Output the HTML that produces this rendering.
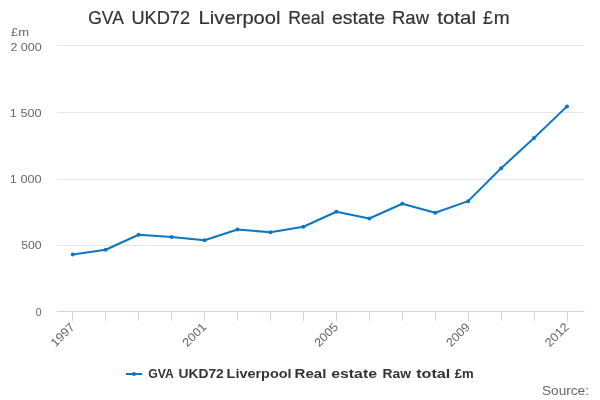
<!DOCTYPE html>
<html><head><meta charset="utf-8"><style>
html,body{margin:0;padding:0;background:#fff;width:600px;height:400px;overflow:hidden}
svg{display:block;will-change:transform}
text{font-family:"Liberation Sans", sans-serif}
</style></head><body>
<svg width="600" height="400" viewBox="0 0 600 400">
<rect width="600" height="400" fill="#fff"/>

<path d="M57 45.5H584" stroke="#e6e6e6" stroke-width="1" fill="none"/>
<path d="M57 112.5H584" stroke="#e6e6e6" stroke-width="1" fill="none"/>
<path d="M57 179.5H584" stroke="#e6e6e6" stroke-width="1" fill="none"/>
<path d="M57 245.5H584" stroke="#e6e6e6" stroke-width="1" fill="none"/>
<path d="M57 311.5H584" stroke="#ccd6eb" stroke-width="1" fill="none"/>
<path d="M72.5 311V321" stroke="#ccd6eb" stroke-width="1" fill="none"/>
<path d="M105.5 311V321" stroke="#ccd6eb" stroke-width="1" fill="none"/>
<path d="M138.5 311V321" stroke="#ccd6eb" stroke-width="1" fill="none"/>
<path d="M171.5 311V321" stroke="#ccd6eb" stroke-width="1" fill="none"/>
<path d="M204.5 311V321" stroke="#ccd6eb" stroke-width="1" fill="none"/>
<path d="M237.5 311V321" stroke="#ccd6eb" stroke-width="1" fill="none"/>
<path d="M270.5 311V321" stroke="#ccd6eb" stroke-width="1" fill="none"/>
<path d="M303.5 311V321" stroke="#ccd6eb" stroke-width="1" fill="none"/>
<path d="M336.5 311V321" stroke="#ccd6eb" stroke-width="1" fill="none"/>
<path d="M369.5 311V321" stroke="#ccd6eb" stroke-width="1" fill="none"/>
<path d="M402.5 311V321" stroke="#ccd6eb" stroke-width="1" fill="none"/>
<path d="M435.5 311V321" stroke="#ccd6eb" stroke-width="1" fill="none"/>
<path d="M468.5 311V321" stroke="#ccd6eb" stroke-width="1" fill="none"/>
<path d="M501.5 311V321" stroke="#ccd6eb" stroke-width="1" fill="none"/>
<path d="M534.5 311V321" stroke="#ccd6eb" stroke-width="1" fill="none"/>
<path d="M567.5 311V321" stroke="#ccd6eb" stroke-width="1" fill="none"/>
<path d="M72.75 254.50 L105.70 249.75 L138.65 234.75 L171.60 236.90 L204.55 240.25 L237.50 229.50 L270.45 232.25 L303.40 226.75 L336.35 211.75 L369.30 218.50 L402.25 203.75 L435.20 212.75 L468.15 201.15 L501.10 168.25 L534.05 138.00 L567.00 106.40" stroke="#0c77c0" stroke-width="2" fill="none" stroke-linejoin="round" stroke-linecap="round"/>
<circle cx="72.75" cy="254.50" r="2" fill="#0c77c0"/>
<circle cx="105.70" cy="249.75" r="2" fill="#0c77c0"/>
<circle cx="138.65" cy="234.75" r="2" fill="#0c77c0"/>
<circle cx="171.60" cy="236.90" r="2" fill="#0c77c0"/>
<circle cx="204.55" cy="240.25" r="2" fill="#0c77c0"/>
<circle cx="237.50" cy="229.50" r="2" fill="#0c77c0"/>
<circle cx="270.45" cy="232.25" r="2" fill="#0c77c0"/>
<circle cx="303.40" cy="226.75" r="2" fill="#0c77c0"/>
<circle cx="336.35" cy="211.75" r="2" fill="#0c77c0"/>
<circle cx="369.30" cy="218.50" r="2" fill="#0c77c0"/>
<circle cx="402.25" cy="203.75" r="2" fill="#0c77c0"/>
<circle cx="435.20" cy="212.75" r="2" fill="#0c77c0"/>
<circle cx="468.15" cy="201.15" r="2" fill="#0c77c0"/>
<circle cx="501.10" cy="168.25" r="2" fill="#0c77c0"/>
<circle cx="534.05" cy="138.00" r="2" fill="#0c77c0"/>
<circle cx="567.00" cy="106.40" r="2" fill="#0c77c0"/>
<path d="M126 374H142" stroke="#0c77c0" stroke-width="2" fill="none"/>
<circle cx="134" cy="374" r="2" fill="#0c77c0"/>
<text x="88.20" y="23.8" font-size="19" fill="#333" font-weight="normal" textLength="35.60" lengthAdjust="spacingAndGlyphs" stroke="#333" stroke-width="0.2">GVA</text>
<text x="131.40" y="23.8" font-size="19" fill="#333" font-weight="normal" textLength="58.60" lengthAdjust="spacingAndGlyphs" stroke="#333" stroke-width="0.2">UKD72</text>
<text x="198.60" y="23.8" font-size="19" fill="#333" font-weight="normal" textLength="82.00" lengthAdjust="spacingAndGlyphs" stroke="#333" stroke-width="0.2">Liverpool</text>
<text x="288.20" y="23.8" font-size="19" fill="#333" font-weight="normal" textLength="36.20" lengthAdjust="spacingAndGlyphs" stroke="#333" stroke-width="0.2">Real</text>
<text x="332.00" y="23.8" font-size="19" fill="#333" font-weight="normal" textLength="53.00" lengthAdjust="spacingAndGlyphs" stroke="#333" stroke-width="0.2">estate</text>
<text x="392.00" y="23.8" font-size="19" fill="#333" font-weight="normal" textLength="37.00" lengthAdjust="spacingAndGlyphs" stroke="#333" stroke-width="0.2">Raw</text>
<text x="437.20" y="23.8" font-size="19" fill="#333" font-weight="normal" textLength="38.80" lengthAdjust="spacingAndGlyphs" stroke="#333" stroke-width="0.2">total</text>
<text x="483.00" y="23.8" font-size="19" fill="#333" font-weight="normal" textLength="9.80" lengthAdjust="spacingAndGlyphs" stroke="#333" stroke-width="0.2">£</text>
<text x="493.68" y="23.8" font-size="19" fill="#333" font-weight="normal" textLength="15.92" lengthAdjust="spacingAndGlyphs" stroke="#333" stroke-width="0.2">m</text>
<text x="148.20" y="377.6" font-size="12.7" fill="#333" font-weight="bold" textLength="25.60" lengthAdjust="spacingAndGlyphs">GVA</text>
<text x="178.40" y="377.6" font-size="12.7" fill="#333" font-weight="bold" textLength="45.40" lengthAdjust="spacingAndGlyphs">UKD72</text>
<text x="226.60" y="377.6" font-size="12.7" fill="#333" font-weight="bold" textLength="65.00" lengthAdjust="spacingAndGlyphs">Liverpool</text>
<text x="294.60" y="377.6" font-size="12.7" fill="#333" font-weight="bold" textLength="31.80" lengthAdjust="spacingAndGlyphs">Real</text>
<text x="331.20" y="377.6" font-size="12.7" fill="#333" font-weight="bold" textLength="45.80" lengthAdjust="spacingAndGlyphs">estate</text>
<text x="382.60" y="377.6" font-size="12.7" fill="#333" font-weight="bold" textLength="28.40" lengthAdjust="spacingAndGlyphs">Raw</text>
<text x="416.20" y="377.6" font-size="12.7" fill="#333" font-weight="bold" textLength="34.20" lengthAdjust="spacingAndGlyphs">total</text>
<text x="454.80" y="377.6" font-size="12.7" fill="#333" font-weight="bold" textLength="19.00" lengthAdjust="spacingAndGlyphs">£m</text>
<text x="11.00" y="35.9" font-size="11.6" fill="#666" font-weight="normal" textLength="18.00" lengthAdjust="spacingAndGlyphs">£m</text>
<text x="10.40" y="50.9" font-size="11.6" fill="#666" font-weight="normal" textLength="31.20" lengthAdjust="spacingAndGlyphs">2 000</text>
<text x="9.80" y="116.6" font-size="11.6" fill="#666" font-weight="normal" textLength="31.80" lengthAdjust="spacingAndGlyphs">1 500</text>
<text x="9.80" y="182.7" font-size="11.6" fill="#666" font-weight="normal" textLength="31.80" lengthAdjust="spacingAndGlyphs">1 000</text>
<text x="21.20" y="248.9" font-size="11.6" fill="#666" font-weight="normal" textLength="20.40" lengthAdjust="spacingAndGlyphs">500</text>
<text x="35.80" y="315.7" font-size="11.6" fill="#666" font-weight="normal" textLength="5.80" lengthAdjust="spacingAndGlyphs">0</text>
<text x="542.00" y="394.6" font-size="12.7" fill="#666" font-weight="normal" textLength="47.00" lengthAdjust="spacingAndGlyphs">Source:</text>
<text x="55.55" y="347.50" font-size="12" fill="#666" textLength="28.0" lengthAdjust="spacingAndGlyphs" transform="rotate(-45 55.55 347.50)">1997</text>
<text x="187.35" y="347.50" font-size="12" fill="#666" textLength="28.0" lengthAdjust="spacingAndGlyphs" transform="rotate(-45 187.35 347.50)">2001</text>
<text x="319.15" y="347.50" font-size="12" fill="#666" textLength="28.0" lengthAdjust="spacingAndGlyphs" transform="rotate(-45 319.15 347.50)">2005</text>
<text x="450.95" y="347.50" font-size="12" fill="#666" textLength="28.0" lengthAdjust="spacingAndGlyphs" transform="rotate(-45 450.95 347.50)">2009</text>
<text x="549.80" y="347.50" font-size="12" fill="#666" textLength="28.0" lengthAdjust="spacingAndGlyphs" transform="rotate(-45 549.80 347.50)">2012</text>
</svg></body></html>
